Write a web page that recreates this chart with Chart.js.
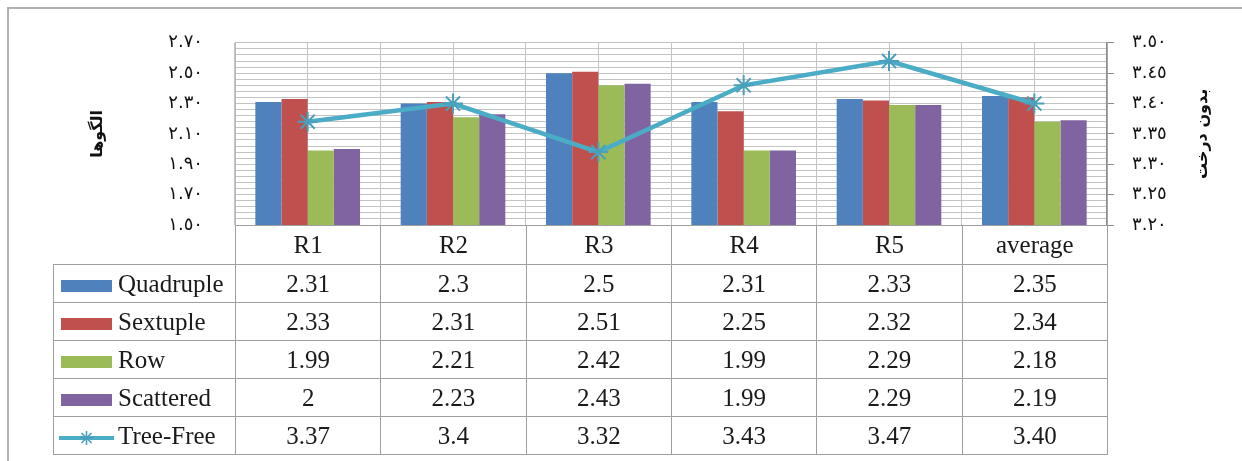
<!DOCTYPE html>
<html>
<head>
<meta charset="utf-8">
<script src="https://cdn.jsdelivr.net/npm/chart.js@4"></script>
<style>
  html, body { margin: 0; padding: 0; background: #fff; }
  #wrap { position: relative; width: 1242px; height: 461px; overflow: hidden; }
  #frame {
    position: absolute; left: 7px; top: 7px; width: 1400px; height: 600px;
    border-left: 2px solid #b2b2b2; border-top: 2px solid #b2b2b2;
  }
  #chart { position: absolute; left: 0; top: 0; }
  #dataTable {
    position: absolute; border-collapse: collapse; table-layout: fixed;
    font-family: "Liberation Serif", "Times New Roman", serif; font-size: 25px; color: #1a1a1a;
  }
  #dataTable td {
    border: 1px solid #9f9f9f; padding: 0; text-align: center; white-space: nowrap; overflow: hidden;
  }
  #dataTable td.blank { border-top: none; border-left: none; }
  #dataTable td.key { text-align: left; }
  .swatch { display: inline-block; width: 51px; height: 12px; margin: 0 6px 0 7px; vertical-align: middle; }
  .lineKey { display: inline-block; width: 55px; height: 16px; margin: 0 4px 0 5px; vertical-align: middle; }
</style>
</head>
<body>
<div id="wrap">
  <div id="frame"></div>
  <canvas id="chart" width="1242" height="461"></canvas>
</div>
<script>
const categories = ["R1", "R2", "R3", "R4", "R5", "average"];
const quadruple = [2.31, 2.3, 2.5, 2.31, 2.33, 2.35];
const sextuple = [2.33, 2.31, 2.51, 2.25, 2.32, 2.34];
const row = [1.99, 2.21, 2.42, 1.99, 2.29, 2.18];
const scattered = [2, 2.23, 2.43, 1.99, 2.29, 2.19];
const treeFree = [3.37, 3.4, 3.32, 3.43, 3.47, 3.40];
const treeFreeText = ["3.37", "3.4", "3.32", "3.43", "3.47", "3.40"];

const leftTitle = "الگوها";
const rightTitle = "بدون درخت";

const gridColor = "#c4c4c4";
const arabicFont = "'DejaVu Sans', sans-serif";

const series = [
  { label: "Quadruple", data: quadruple, color: "#4f81bd" },
  { label: "Sextuple", data: sextuple, color: "#c0504d" },
  { label: "Row", data: row, color: "#9bbb59" },
  { label: "Scattered", data: scattered, color: "#8064a2" },
];

function toArabicDigits(text) {
  return text.replace(/[0-9]/g, (d) => String.fromCharCode(0x0660 + Number(d)));
}

// right axis title reads bottom-to-top like the left one
const rightTitlePlugin = {
  id: "rightTitle",
  afterDraw(chart) {
    const { ctx, chartArea } = chart;
    ctx.save();
    ctx.translate(1203, (chartArea.top + chartArea.bottom) / 2);
    ctx.rotate(-Math.PI / 2);
    ctx.font = `bold 16px ${arabicFont}`;
    ctx.fillStyle = "#111";
    ctx.textAlign = "center";
    ctx.textBaseline = "middle";
    ctx.fillText(rightTitle, 0, 0);
    ctx.restore();
  },
};

const chart = new Chart(document.getElementById("chart"), {
  type: "bar",
  data: {
    labels: categories,
    datasets: [
      ...series.map((s) => ({
        type: "bar",
        label: s.label,
        data: s.data,
        backgroundColor: s.color,
        yAxisID: "y",
        categoryPercentage: 0.72,
        barPercentage: 1,
        order: 2,
      })),
      {
        type: "line",
        label: "Tree-Free",
        data: treeFree,
        yAxisID: "y1",
        borderColor: "#4bacc6",
        borderWidth: 4.5,
        pointStyle: "star",
        pointRadius: 10,
        pointBorderWidth: 2,
        pointBorderColor: "#4a9fbb",
        pointBackgroundColor: "#4bacc6",
        order: 1,
      },
    ],
  },
  options: {
    responsive: false,
    animation: false,
    layout: { padding: { top: 38, bottom: 236, left: 0, right: 0 } },
    plugins: {
      legend: { display: false },
      tooltip: { enabled: false },
    },
    scales: {
      x: {
        offset: true,
        grid: { offset: true, color: gridColor, drawTicks: false },
        border: { display: false },
        ticks: { display: false },
        afterFit: (scale) => { scale.height = 0; },
      },
      x2: {
        type: "category",
        offset: true,
        grid: { offset: false, color: gridColor, drawTicks: false },
        border: { display: false },
        ticks: { display: false },
        afterFit: (scale) => { scale.height = 0; },
      },
      y: {
        position: "left",
        min: 1.5,
        max: 2.7,
        ticks: {
          stepSize: 0.04,
          maxTicksLimit: 40,
          autoSkip: false,
          padding: 32,
          color: "#111",
          font: { family: arabicFont, size: 18 },
          callback: (value, index) => (index % 5 === 0 ? toArabicDigits(value.toFixed(2)) : ""),
        },
        grid: { color: gridColor, drawTicks: false },
        border: { color: "#b8b8b8" },
        title: {
          display: true,
          text: leftTitle,
          color: "#111",
          font: { family: arabicFont, size: 16, weight: "bold" },
          padding: { top: 88, bottom: 0 },
        },
        afterFit: (scale) => { scale.width = 235; },
      },
      y1: {
        position: "right",
        min: 3.2,
        max: 3.5,
        ticks: {
          stepSize: 0.01,
          maxTicksLimit: 40,
          autoSkip: false,
          padding: 18,
          color: "#111",
          font: { family: arabicFont, size: 18 },
          callback: (value, index) => (index % 5 === 0 ? toArabicDigits(value.toFixed(2)) : ""),
        },
        grid: {
          drawOnChartArea: false,
          tickLength: 7,
          color: (ctx) => (ctx.index % 5 === 0 ? "#8c8c8c" : "rgba(0,0,0,0)"),
        },
        border: { color: "#8c8c8c", width: 1.5 },
        afterFit: (scale) => { scale.width = 135; },
      },
    },
  },
  plugins: [rightTitlePlugin],
});

// data table under the plot, columns taken from the category scale
function buildTable() {
  const area = chart.chartArea;
  const tableLeft = 53;
  const colW = area.width / categories.length;

  const table = document.createElement("table");
  table.id = "dataTable";
  table.style.left = tableLeft + "px";
  table.style.top = area.bottom + "px";
  table.style.width = (area.right - tableLeft) + "px";

  const colgroup = document.createElement("colgroup");
  const first = document.createElement("col");
  first.style.width = (area.left - tableLeft) + "px";
  colgroup.appendChild(first);
  categories.forEach(() => {
    const c = document.createElement("col");
    c.style.width = colW + "px";
    colgroup.appendChild(c);
  });
  table.appendChild(colgroup);

  const head = document.createElement("tr");
  head.style.height = "39px";
  head.innerHTML = '<td class="blank"></td>' + categories.map((c) => `<td>${c}</td>`).join("");
  table.appendChild(head);

  series.forEach((s) => {
    const tr = document.createElement("tr");
    tr.style.height = "38px";
    tr.innerHTML = `<td class="key"><span class="swatch" style="background:${s.color}"></span>${s.label}</td>`
      + s.data.map((v) => `<td>${v}</td>`).join("");
    table.appendChild(tr);
  });

  const lineRow = document.createElement("tr");
  lineRow.style.height = "38px";
  const key = `<svg class="lineKey" viewBox="0 0 55 16">
      <line x1="0" y1="8" x2="55" y2="8" stroke="#4bacc6" stroke-width="4"/>
      <g stroke="#4a9fbb" stroke-width="1.6">
        <line x1="21" y1="8" x2="34" y2="8"/><line x1="27.5" y1="1" x2="27.5" y2="15"/>
        <line x1="22.5" y1="3" x2="32.5" y2="13"/><line x1="22.5" y1="13" x2="32.5" y2="3"/>
      </g></svg>`;
  lineRow.innerHTML = `<td class="key">${key}Tree-Free</td>` + treeFreeText.map((v) => `<td>${v}</td>`).join("");
  table.appendChild(lineRow);

  document.getElementById("wrap").appendChild(table);
}

buildTable();
</script>
</body>
</html>
